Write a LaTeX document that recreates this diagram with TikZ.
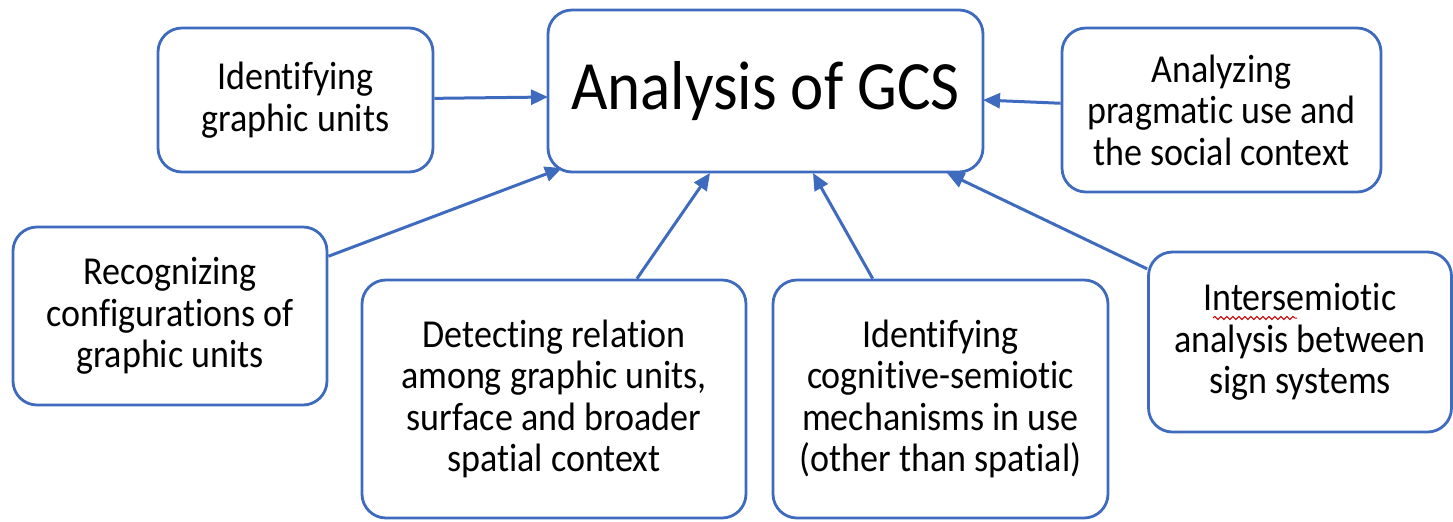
\documentclass[tikz,border=0pt]{standalone}
\usepackage{fontspec}
\setmainfont{Carlito}[Ligatures=NoCommon, FakeStretch=0.91]
\usetikzlibrary{arrows.meta,decorations.pathmorphing}
\definecolor{obl}{HTML}{3F6BBF}
\tikzset{
  box/.style={draw=obl, line width=1.4pt, rounded corners=12pt, fill=white,
    align=center, inner sep=0pt, font=\fontsize{19.8pt}{20.8pt}\selectfont},
  arr/.style={draw=obl, line width=1.5pt, -{Triangle[length=8.5pt,width=7.5pt]}},
}
\begin{document}
\begin{tikzpicture}[x=0.5pt,y=-0.5pt]
\useasboundingbox (0,0) rectangle (1453,521);
\node[box, minimum width=217.5pt, minimum height=81pt, font=\fontsize{34.6pt}{38pt}\selectfont] (main) at (765.5,91) {Analysis of GCS};
\node[box, minimum width=137.5pt, minimum height=72pt] (ident) at (295.5,100) {Identifying\\graphic units};
\node[box, minimum width=159.5pt, minimum height=82pt] (analyz) at (1221.5,110) {Analyzing\\pragmatic use and\\the social context};
\node[box, minimum width=157pt, minimum height=89pt] (recog) at (170,316) {Recognizing\\configurations of\\graphic units};
\node[box, minimum width=192pt, minimum height=119pt] (detect) at (554,399) {Detecting relation\\among graphic units,\\surface and broader\\spatial context};
\node[box, minimum width=167.5pt, minimum height=119pt] (cogn) at (940.5,399) {Identifying\\cognitive-semiotic\\mechanisms in use\\(other than spatial)};
\node[box, minimum width=151.5pt, minimum height=90pt] (inter) at (1300,342) {Intersemiotic\\analysis between\\sign systems};
\coordinate (t1) at (548,97);
\coordinate (t2) at (983,100);
\coordinate (t3) at (562,168);
\coordinate (t4) at (710,173);
\coordinate (t5) at (813,173);
\coordinate (t6) at (947,173);
\draw[arr] (ident) -- (t1);
\draw[arr] (analyz) -- (t2);
\draw[arr] (recog) -- (t3);
\draw[arr] (detect) -- (t4);
\draw[arr] (cogn) -- (t5);
\draw[arr] (inter) -- (t6);
\coordinate (u1) at (1213,318);
\coordinate (u2) at (1297,318);
\draw[red!80!black, line width=0.5pt, decorate, decoration={snake, amplitude=0.8pt, segment length=3pt}] (u1) -- (u2);
\end{tikzpicture}
\end{document}
